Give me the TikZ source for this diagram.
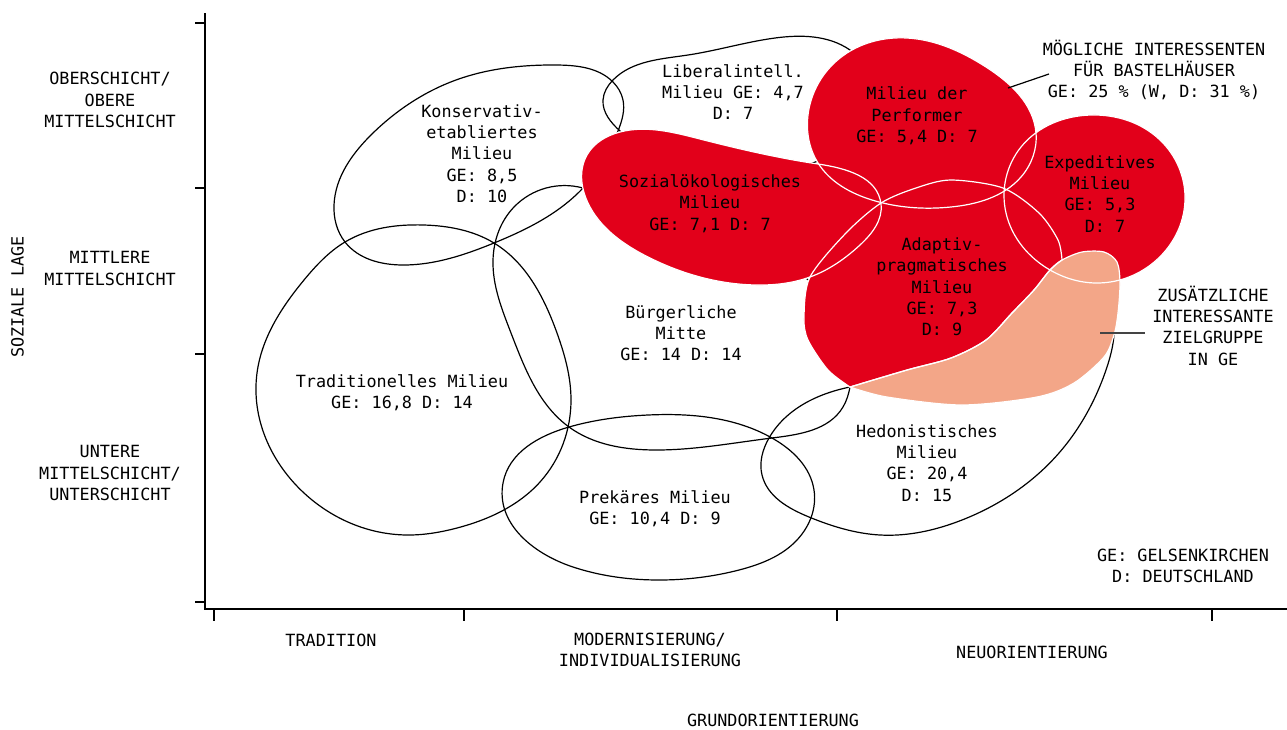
\documentclass[tikz,border=0pt]{standalone}
\usepackage{fontspec}
\usetikzlibrary{hobby}
\newfontfamily\labelfont{DejaVu Sans Mono}
\definecolor{milred}{RGB}{226,0,26}
\definecolor{milsalmon}{RGB}{243,166,136}
\definecolor{leadgray}{RGB}{68,68,68}
\tikzset{
  outl/.style={draw=black, line width=1.2pt, use Hobby shortcut, closed=true},
  redfill/.style={fill=milred},
  salfill/.style={fill=milsalmon},
  whiteln/.style={draw=white, line width=1.2pt},
  axisln/.style={draw=black, line width=1.3pt},
  lbl/.style={align=center, inner sep=0pt, font=\labelfont\fontsize{16.8}{21.3}\selectfont},
}
\begin{document}
\begin{tikzpicture}[x=1pt,y=-1pt]
\useasboundingbox (0,0) rectangle (1287,729);
\fill[white] (0,0) rectangle (1287,729);

% axes
\coordinate (ytop) at (205,13);
\coordinate (orig) at (205,609);
\coordinate (xend) at (1287,609);
\draw[axisln] (ytop) -- (orig) -- (xend);
\foreach \yy in {23,188,354,602} \draw[axisln] (195,\yy) -- (205,\yy);
\foreach \xx in {214,464,837,1212} \draw[axisln] (\xx,609) -- (\xx,621);

% black outlined milieus
\draw[outl] (424,225) .. (494,243) .. (557,333) .. (571,400) .. (540,482) .. (457,528) .. (407,535) .. (304,493) .. (257,373) .. (304,280) .. (345,242);
\draw[outl] (556,65) .. (613,82) .. (623,100) .. (618,131) .. (583,188) .. (494,243) .. (403,265) .. (345,242) .. (334,205) .. (373,133) .. (456,80);
\draw[outl] (613,80) .. (688,55) .. (775,38) .. (850,50) .. (875,95) .. (820,160) .. (700,172) .. (620,131) .. (603,100);
\draw[outl] (583,188) .. (514,207) .. (493,260) .. (511,333) .. (569,427) .. (656,450) .. (772,438) .. (843,407) .. (850,387) .. (830,300) .. (760,258) .. (650,228);
\draw[outl] (569,427) .. (648,415) .. (772,438) .. (814,490) .. (797,540) .. (739,570) .. (660,580) .. (573,567) .. (503,483);
\draw[outl] (850,387) .. (769,438) .. (762,475) .. (809,517) .. (880,535) .. (962,520) .. (1059,453) .. (1106,370) .. (1114,335) .. (1105,305) .. (1040,330) .. (930,378);

% red milieus
\def\sozpath{(620,132) .. (700,139) .. (818,164) .. (881,204) .. (860,245) .. (810,277) .. (756,285) .. (648,257) .. (588,203) .. (587,155)}
\def\perfpath{(907,38) .. (986,67) .. (1036,133) .. (1021,177) .. (951,207) .. (872,200) .. (818,163) .. (808,115) .. (840,58)}
\def\exppath{(1091,115) .. (1160,140) .. (1185,200) .. (1153,263) .. (1096,283) .. (1050,270) .. (1006,213) .. (1021,147)}
\def\adappath{plot[smooth] coordinates {(1062,260) (1058,240) (1039,213) (1003,188) (951,180) (916,188) (881,203) (846,233) (810,277) (804,317) (808,340) (828,370) (850,387)} -- plot[smooth] coordinates {(850,387) (907,370) (951,358) (986,340) (1012,313) (1034,290) (1050,270) (1062,260)} -- cycle}
\def\salpath{plot[smooth] coordinates {(850,387) (907,370) (951,358) (986,340) (1012,313) (1034,290) (1050,270) (1062,260) (1082,252) (1104,252) (1117,262) (1120,283) (1118,313) (1114,335) (1104,357) (1074,383) (1037,397) (962,405) (887,397) (850,387)} -- cycle}

\fill[redfill, use Hobby shortcut, closed=true] \sozpath;
\fill[redfill, use Hobby shortcut, closed=true] \perfpath;
\fill[redfill, use Hobby shortcut, closed=true] \exppath;
\fill[redfill] \adappath;
\fill[salfill] \salpath;

\draw[whiteln, use Hobby shortcut, closed=true] \sozpath;
\draw[whiteln, use Hobby shortcut, closed=true] \perfpath;
\draw[whiteln] \adappath;
\draw[whiteln] \salpath;
\draw[whiteln, use Hobby shortcut, closed=true] \exppath;

% milieu labels
\node[lbl] (lib) at (733,92) {Liberalintell.\\Milieu GE: 4,7\\D: 7};
\node[lbl] (kons) at (482,153.5) {Konservativ-\\etabliertes\\Milieu\\GE: 8,5\\D: 10};
\node[lbl] (perf) at (917,116) {Milieu der\\Performer\\GE: 5,4 D: 7};
\node[lbl] (soz) at (710,203.5) {Sozialökologisches\\Milieu\\GE: 7,1 D: 7};
\node[lbl] (exp) at (1100,194) {Expeditives\\Milieu\\GE: 5,3\\\phantom{0}D: 7};
\node[lbl] (adap) at (942,287) {Adaptiv-\\pragmatisches\\Milieu\\GE: 7,3\\D: 9};
\node[lbl] (buerg) at (681,333) {Bürgerliche\\Mitte\\GE: 14 D: 14};
\node[lbl] (trad) at (402,392.5) {Traditionelles Milieu\\GE: 16,8 D: 14};
\node[lbl] (prek) at (655,509) {Prekäres Milieu\\GE: 10,4 D: 9};
\node[lbl] (hedo) at (927,463) {Hedonistisches\\Milieu\\GE: 20,4\\D: 15};

% axis labels
\node[lbl] (oben) at (110,100) {OBERSCHICHT/\\OBERE\\MITTELSCHICHT};
\node[lbl] (mitte) at (110,268.5) {MITTLERE\\MITTELSCHICHT};
\node[lbl] (unten) at (110,473) {UNTERE\\MITTELSCHICHT/\\UNTERSCHICHT};
\node[lbl, rotate=90] (sozlage) at (17.5,297) {SOZIALE LAGE};
\node[lbl] (tradx) at (331,640) {TRADITION};
\node[lbl] (modx) at (650,650) {MODERNISIERUNG/\\INDIVIDUALISIERUNG};
\node[lbl] (neux) at (1032,652) {NEUORIENTIERUNG};
\node[lbl] (grund) at (773,720) {GRUNDORIENTIERUNG};

% annotations
\node[lbl] (moeg) at (1154,70) {MÖGLICHE INTERESSENTEN\\FÜR BASTELHÄUSER\\GE: 25 \% (W, D: 31 \%)};
\node[lbl] (zus) at (1213,325.5) {ZUSÄTZLICHE\\INTERESSANTE\\ZIELGRUPPE\\IN GE};
\node[lbl] (legend) at (1183,566) {GE: GELSENKIRCHEN\\D: DEUTSCHLAND};

\coordinate (perfpt) at (1008,88);
\coordinate (moegpt) at (1049,74);
\draw[draw=black, line width=1.2pt] (perfpt) -- (moegpt);
\coordinate (salpt) at (1100,333);
\coordinate (zuspt) at (1145,333);
\draw[draw=leadgray, line width=1.8pt] (salpt) -- (zuspt);
\end{tikzpicture}
\end{document}
